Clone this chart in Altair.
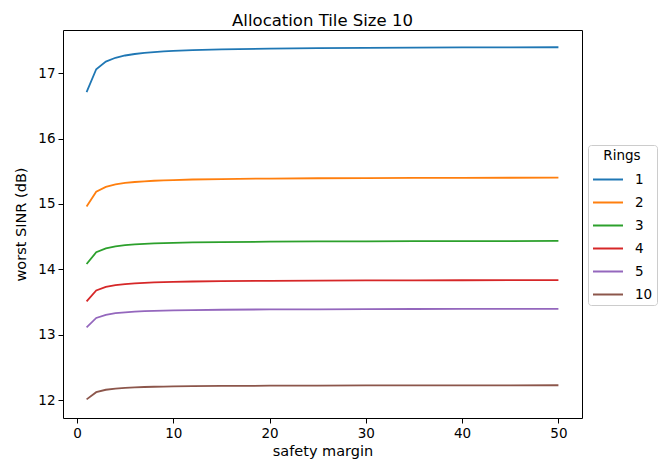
import altair as alt
import pandas as pd

x_vals = [1, 2, 3, 4, 5, 6, 7, 8, 9, 10, 12, 15, 20, 25, 30, 35, 40, 45, 50]
ring_labels = ["1", "2", "3", "4", "5", "10"]
ring1 = [16.71, 17.06, 17.177, 17.235, 17.27, 17.293, 17.31, 17.323, 17.332, 17.34, 17.352, 17.363, 17.375, 17.382, 17.387, 17.39, 17.393, 17.394, 17.396]
ring2 = [14.96, 15.185, 15.26, 15.298, 15.32, 15.335, 15.346, 15.354, 15.36, 15.365, 15.373, 15.38, 15.388, 15.392, 15.395, 15.397, 15.399, 15.40, 15.401]
ring3 = [14.08, 14.26, 14.32, 14.35, 14.368, 14.38, 14.389, 14.395, 14.40, 14.404, 14.41, 14.416, 14.422, 14.426, 14.428, 14.43, 14.431, 14.432, 14.433]
ring4 = [13.51, 13.675, 13.73, 13.758, 13.774, 13.785, 13.793, 13.799, 13.803, 13.807, 13.813, 13.818, 13.824, 13.827, 13.829, 13.831, 13.832, 13.833, 13.833]
ring5 = [13.11, 13.255, 13.303, 13.328, 13.342, 13.352, 13.359, 13.364, 13.368, 13.371, 13.376, 13.381, 13.386, 13.388, 13.39, 13.392, 13.393, 13.394, 13.394]
ring10 = [12.01, 12.12, 12.157, 12.175, 12.186, 12.193, 12.199, 12.203, 12.206, 12.208, 12.212, 12.215, 12.219, 12.221, 12.223, 12.224, 12.225, 12.225, 12.226]
colors = ["#1f77b4", "#ff7f0e", "#2ca02c", "#d62728", "#9467bd", "#8c564b"]

rows = []
for label, series in zip(ring_labels, [ring1, ring2, ring3, ring4, ring5, ring10]):
    for xv, yv in zip(x_vals, series):
        rows.append({"margin": xv, "sinr": yv, "Rings": label})
df = pd.DataFrame(rows)

font = "DejaVu Sans"

chart = alt.Chart(df).mark_line(strokeWidth=1.8).encode(
    x=alt.X("margin:Q", title="safety margin",
            scale=alt.Scale(domain=[-1.45, 52.45], nice=False, zero=False),
            axis=alt.Axis(values=[0, 10, 20, 30, 40, 50], grid=False, tickSize=5,
                          labelPadding=3, titlePadding=5, format="d")),
    y=alt.Y("sinr:Q", title="worst SINR (dB)",
            scale=alt.Scale(domain=[11.725, 17.66], nice=False, zero=False),
            axis=alt.Axis(values=[12, 13, 14, 15, 16, 17], grid=False, tickSize=5,
                          labelPadding=3, titlePadding=9, format="d")),
    color=alt.Color("Rings:N", sort=ring_labels,
                    scale=alt.Scale(domain=ring_labels, range=colors),
                    legend=alt.Legend(orient="none", legendX=525, legendY=115,
                                      symbolType="stroke", symbolSize=900,
                                      symbolStrokeWidth=2, fillColor="white",
                                      strokeColor="#cccccc", cornerRadius=3,
                                      padding=4, rowPadding=-8, titleAnchor="middle",
                                      titlePadding=1, labelOffset=11,
                                      titleFontWeight="normal", titleFontSize=13.5,
                                      labelFontSize=13.5, titleColor="black",
                                      labelColor="black", titleFont=font, labelFont=font)),
    order=alt.Order("margin:Q"),
).properties(
    width=519, height=388,
    title=alt.TitleParams("Allocation Tile Size 10", fontSize=16.5, fontWeight="normal",
                          font=font, color="black", anchor="middle", offset=1),
    autosize=alt.AutoSizeParams(type="none"),
    padding={"left": 55, "top": 22, "right": 82, "bottom": 47},
).configure_view(
    stroke="black", strokeWidth=1
).configure_axis(
    domain=False, tickColor="black", labelColor="black", titleColor="black",
    labelFont=font, titleFont=font, labelFontSize=13.5, titleFontSize=14.5,
    titleFontWeight="normal"
)

chart.save("out.html", embed_options={"renderer": "svg", "actions": False})
